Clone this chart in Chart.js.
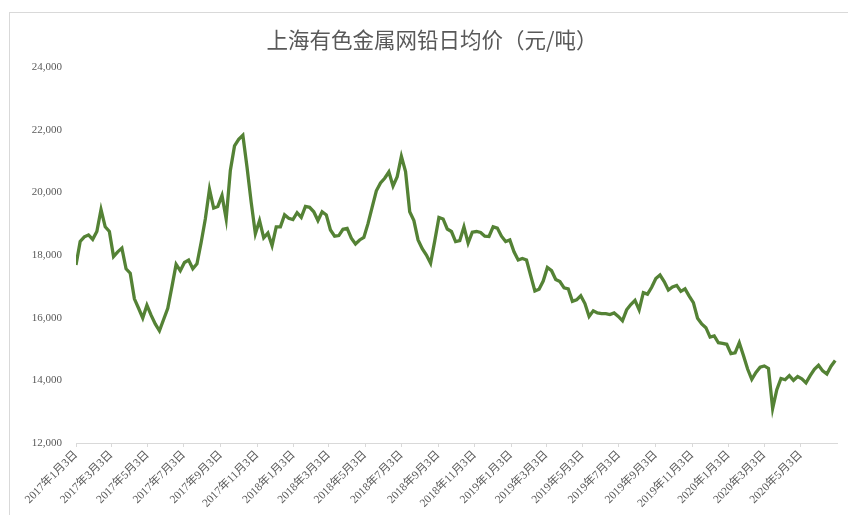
<!DOCTYPE html>
<html>
<head>
<meta charset="utf-8">
<script src="https://cdn.jsdelivr.net/npm/chart.js@4/dist/chart.umd.min.js"></script>
<style>
    html, body { margin: 0; padding: 0; background: #fff; overflow: hidden; }
    #frame { position: absolute; left: 9px; top: 12px; width: 900px; height: 600px; border: 1px solid #d9d9d9; }
    #wrap { position: absolute; left: 0; top: 0; width: 848px; height: 515px; }
</style>
</head>
<body>
<div id="frame"></div>
<div id="wrap"><canvas id="chart"></canvas></div>
<script>
// weekly samples starting 2017-01-03
const startDate = '2017-01-03';
const endDate = '2020-07-03';
const chartTitle = '上海有色金属网铅日均价（元/吨）';
const tickDates = [
    '2017-01-03', '2017-03-03', '2017-05-03', '2017-07-03', '2017-09-03', '2017-11-03',
    '2018-01-03', '2018-03-03', '2018-05-03', '2018-07-03', '2018-09-03', '2018-11-03',
    '2019-01-03', '2019-03-03', '2019-05-03', '2019-07-03', '2019-09-03', '2019-11-03',
    '2020-01-03', '2020-03-03', '2020-05-03'
];

const lead2017 = [
    17680, 18430, 18580, 18640, 18500, 18750, 19450, 18900, 18750, 17950,
    18100, 18220, 17560, 17420, 16600, 16300, 15990, 16400, 16080, 15800,
    15580, 15940, 16300, 16990, 17700, 17500, 17760, 17840, 17560, 17720,
    18400, 19150, 20100, 19500, 19550, 19900, 19150, 20700, 21480, 21690,
    21820, 20800, 19680, 18680, 19100, 18550, 18700, 18300, 18900, 18900,
    19280, 19170
];
const lead2018 = [
    19130, 19350, 19200, 19550, 19520, 19380, 19100, 19380, 19280, 18800,
    18600, 18620, 18820, 18850, 18540, 18350, 18480, 18560, 19000, 19530,
    20050, 20300, 20450, 20650, 20200, 20500, 21150, 20660, 19380, 19100,
    18480, 18200, 18000, 17740, 18450, 19200, 19150, 18830, 18750, 18430,
    18460, 18900, 18380, 18730, 18750, 18720, 18600, 18590, 18900, 18860,
    18600, 18430
];
const lead2019 = [
    18480, 18100, 17840, 17890, 17840, 17340, 16850, 16910, 17170, 17600,
    17500, 17220, 17150, 16950, 16920, 16520, 16570, 16700, 16450, 16040,
    16220, 16150, 16130, 16130, 16100, 16150, 16040, 15900, 16250, 16420,
    16550, 16250, 16800, 16750, 16970, 17250, 17360, 17150, 16880, 16980,
    17030, 16840, 16920, 16690, 16480, 15980, 15800, 15680, 15380, 15420,
    15200, 15180
];
const lead2020 = [
    15150, 14850, 14880, 15200, 14790, 14360, 14030, 14250, 14420, 14460,
    14380, 13100, 13700, 14060, 14020, 14150, 14000, 14120, 14050, 13920,
    14150, 14350, 14480, 14300, 14200, 14450, 14630
];

const DAY = 86400000;
const t0 = Date.parse(startDate);
const dayOf = s => Math.round((Date.parse(s) - t0) / DAY);

const prices = [...lead2017, ...lead2018, ...lead2019, ...lead2020];
const points = prices.map((v, i) => ({ x: i * 7, y: v }));
const tickDays = tickDates.map(dayOf);

const fmtDate = d => {
    const dt = new Date(t0 + d * DAY);
    return dt.getUTCFullYear() + '年' + (dt.getUTCMonth() + 1) + '月' + dt.getUTCDate() + '日';
};

const labelFont = '"Liberation Serif", "Noto Sans CJK SC", serif';

// title drawn a bit right of centre, like the original
const titlePlugin = {
    id: 'titleText',
    afterDraw(chart) {
        const ctx = chart.ctx;
        ctx.save();
        ctx.font = '21.5px "Noto Sans CJK SC", sans-serif';
        ctx.fillStyle = '#595959';
        ctx.textAlign = 'center';
        ctx.textBaseline = 'middle';
        ctx.fillText(chartTitle, 432, 40);
        ctx.restore();
    }
};

new Chart(document.getElementById('chart'), {
    type: 'line',
    data: {
        datasets: [{
            label: '铅日均价',
            data: points,
            borderColor: '#548235',
            borderWidth: 3.3,
            pointRadius: 0,
            tension: 0,
            fill: false
        }]
    },
    options: {
        animation: false,
        responsive: true,
        maintainAspectRatio: false,
        layout: { padding: { left: 0, right: 11, top: 67, bottom: 0 } },
        plugins: {
            legend: { display: false },
            tooltip: { enabled: false },
            title: { display: false }
        },
        scales: {
            x: {
                type: 'linear',
                min: 0,
                max: dayOf(endDate),
                afterBuildTicks: scale => {
                    scale.ticks = tickDays.map(v => ({ value: v }));
                },
                afterFit: scale => { scale.height = 72; },
                border: { display: true, color: '#d9d9d9', width: 1 },
                grid: { display: true, drawOnChartArea: false, drawTicks: true, tickLength: 4, color: '#d9d9d9' },
                ticks: {
                    autoSkip: false,
                    maxRotation: 45,
                    minRotation: 45,
                    padding: 1,
                    color: '#595959',
                    font: { family: labelFont, size: 11.5 },
                    callback: v => fmtDate(v)
                }
            },
            y: {
                min: 12000,
                max: 24000,
                afterFit: scale => { scale.width = 76; },
                border: { display: false },
                grid: { display: false, drawTicks: false },
                ticks: {
                    stepSize: 2000,
                    padding: 14,
                    color: '#595959',
                    font: { family: labelFont, size: 11 },
                    callback: v => v.toLocaleString('en-US')
                }
            }
        }
    },
    plugins: [titlePlugin]
});
</script>
</body>
</html>
